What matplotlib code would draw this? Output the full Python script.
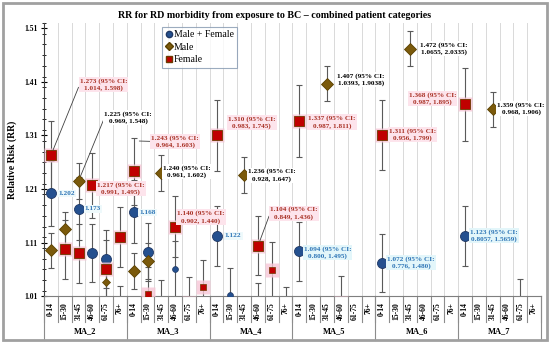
import numpy as np
import matplotlib.pyplot as plt
from matplotlib import patches, transforms
from matplotlib.lines import Line2D
from matplotlib.ticker import MultipleLocator

plt.rcParams['font.family'] = ['Liberation Serif', 'DejaVu Serif']

# categories
ages = ["0-14", "15-30", "31-45", "46-60", "61-75", "76+"]
groups = ["MA_2", "MA_3", "MA_4", "MA_5", "MA_6", "MA_7"]
nan = np.nan

# relative risk per (group, age), nan = no point
mf_rr = [1.202, nan, 1.173, 1.091, 1.079, 0.981,
         1.168, 1.093, 0.990, 1.061, nan, nan,
         1.122, 1.012, nan, 0.985, nan, nan,
         1.094, nan, nan, nan, nan, nan,
         1.072, nan, nan, nan, nan, nan,
         1.123, nan, nan, nan, nan, nan]
male_rr = [1.096, 1.135, 1.225, nan, 1.037, nan,
           1.057, 1.076, 1.240, nan, nan, nan,
           nan, nan, 1.236, nan, nan, nan,
           nan, nan, 1.407, nan, nan, nan,
           nan, nan, 1.472, nan, nan, nan,
           nan, nan, 1.359, nan, nan, nan]
female_rr = [1.273, 1.098, 1.090, 1.217, 1.0615, 1.121,
             1.243, 1.014, nan, 1.140, 0.997, 1.027,
             1.310, nan, nan, 1.104, 1.059, 0.979,
             1.337, nan, nan, 0.998, nan, nan,
             1.311, nan, nan, nan, nan, nan,
             1.368, nan, nan, nan, 0.992, nan]

# error bars: percentage for M+F and F, fixed for M
pct_err = 0.05
male_err = 0.033

# colours
c_mf, c_m, c_f = "#24508f", "#7b5a0c", "#c00000"
t_mf, t_f = "#2e75b6", "#a93226"

x = np.arange(len(groups) * len(ages))

fig = plt.figure(figsize=(5.5, 3.44), dpi=100)
ax = fig.add_axes([0.08, 0.1387, 0.9036, 0.7946])


def plot_series(vals, err, color, edge, marker, big, small, small_idx, z):
    vals = np.array(vals, dtype=float)
    ax.errorbar(x, vals, yerr=err, fmt='none', ecolor='#5a5a5a', elinewidth=0.8,
                capsize=2, capthick=0.8, zorder=2)
    is_small = np.isin(x, small_idx)
    ax.plot(x[~is_small], vals[~is_small], ls='none', marker=marker, ms=big,
            mfc=color, mec=edge, mew=0.6, zorder=z)
    ax.plot(x[is_small], vals[is_small], ls='none', marker=marker, ms=small,
            mfc=color, mec=edge, mew=0.5, zorder=z)
    return vals


mf = np.array(mf_rr)
plot_series(mf_rr, pct_err * mf, c_mf, "#1f3864", 'o', 7.2, 4.2, [9, 13], 3)
plot_series(male_rr, male_err, c_m, "#5a4000", 'D', 6.0, 3.8, [4], 4)
fem = np.array(female_rr)
# pink glow behind the female squares
ax.plot(x, fem, ls='none', marker='s', ms=10.5, mfc='#f7c6d6', mec='none', alpha=0.8, zorder=4.5)
plot_series(female_rr, pct_err * fem, c_f, "#6b3a00", 's', 6.8, 4.2, [7, 11, 16], 5)

# data labels: (text, anchor x, anchor y, text x, text y, colour, background, leader)
labels = [
    ("1.273 (95% CI:\n1.014, 1.598)", 0, 1.273, 3.8, 1.405, t_f, '#fde4ec', True),
    ("1.225 (95% CI:\n0.969, 1.548)", 2, 1.225, 5.6, 1.343, 'black', 'white', True),
    ("1.243 (95% CI:\n0.964, 1.603)", 6, 1.30, 9.0, 1.299, t_f, '#fde4ec', True),
    ("1.240 (95% CI:\n0.961, 1.602)", 0, 0, 9.85, 1.2425, 'black', 'white', False),
    ("1.310 (95% CI:\n0.983, 1.745)", 0, 0, 14.55, 1.334, t_f, '#fde4ec', False),
    ("1.236 (95% CI:\n0.928, 1.647)", 0, 0, 16.0, 1.236, 'black', 'white', False),
    ("1.104 (95% CI:\n0.849, 1.436)", 15, 1.104, 17.6, 1.165, t_f, '#fde4ec', True),
    ("1.122", 0, 0, 13.2, 1.1225, t_mf, '#eef9fb', False),
    ("1.202", 0, 0, 1.15, 1.202, t_mf, '#eef9fb', False),
    ("1.173", 0, 0, 3.05, 1.173, t_mf, '#eef9fb', False),
    ("1.168", 0, 0, 7.0, 1.167, t_mf, '#eef9fb', False),
    ("1.217 (95% CI:\n0.991, 1.495)", 0, 0, 5.07, 1.211, t_f, '#fde4ec', False),
    ("1.140 (95% CI:\n0.902, 1.440)", 0, 0, 10.86, 1.158, t_f, '#fde4ec', False),
    ("1.337 (95% CI:\n0.987, 1.811)", 0, 0, 20.35, 1.335, t_f, '#fde4ec', False),
    ("1.407 (95% CI:\n1.0393, 1.9038)", 0, 0, 22.46, 1.414, 'black', 'white', False),
    ("1.311 (95% CI:\n0.956, 1.799)", 0, 0, 26.2, 1.312, t_f, '#fde4ec', False),
    ("1.472 (95% CI:\n1.0655, 2.0335)", 0, 0, 28.45, 1.472, 'black', 'white', False),
    ("1.368 (95% CI:\n0.987, 1.895)", 0, 0, 27.65, 1.3785, t_f, '#fde4ec', False),
    ("1.359 (95% CI:\n0.968, 1.906)", 0, 0, 34.06, 1.36, 'black', 'white', False),
    ("1.094 (95% CI:\n0.800, 1.495)", 0, 0, 20.04, 1.092, t_mf, '#e3f6fa', False),
    ("1.072 (95% CI:\n0.776, 1.480)", 0, 0, 26.08, 1.073, t_mf, '#e3f6fa', False),
    ("1.123 (95% CI:\n0.8057, 1.5659)", 0, 0, 32.1, 1.123, t_mf, '#e3f6fa', False),
]
for txt, ax_, ay, tx, ty, col, bg, leader in labels:
    box = dict(boxstyle='square,pad=0.15', fc=bg, ec='none')
    if leader:
        ax.annotate(txt, xy=(ax_, ay), xytext=(tx, ty), ha='center', va='center',
                    fontsize=5.2, fontweight='bold', color=col, bbox=box, zorder=6,
                    linespacing=1.35,
                    arrowprops=dict(arrowstyle='-', color='#404040', lw=0.6,
                                    relpos=(0, 0.5), shrinkA=0, shrinkB=4))
    else:
        ax.text(tx, ty, txt, ha='center', va='center', fontsize=5.2, fontweight='bold',
                color=col, bbox=box, zorder=6, linespacing=1.35)

# axes
ax.set_xlim(-0.5, len(x) - 0.5)
ax.set_ylim(1.01, 1.52)
ax.set_yticks(np.arange(1.01, 1.52, 0.1))
ax.yaxis.set_minor_locator(MultipleLocator(0.02))
ax.set_yticklabels([f"{v:.2f}" for v in np.arange(1.01, 1.52, 0.1)],
                   fontsize=5.5, fontweight='bold')
ax.tick_params(axis='y', which='major', direction='inout', length=5, width=0.8, pad=2)
ax.tick_params(axis='y', which='minor', direction='inout', length=3, width=0.6)
ax.set_ylabel("Relative Risk (RR)", fontsize=7, fontweight='bold', labelpad=5)

ax.set_xticks(x)
ax.set_xticklabels(ages * len(groups), rotation=90, fontsize=5.5, fontweight='bold')
ax.tick_params(axis='x', which='major', length=0, pad=4)
ax.set_xticks(np.arange(-0.5, len(x), 1), minor=True)
ax.tick_params(axis='x', which='minor', length=0)
ax.grid(which='minor', axis='x', color='#d9d9d9', lw=0.7)
ax.set_axisbelow(True)

for s in ['top', 'right']:
    ax.spines[s].set_visible(False)
ax.spines['left'].set_color('#404040')
ax.spines['bottom'].set_color('#7f7f7f')

# multi-level category separators
trans = transforms.blended_transform_factory(ax.transData, ax.transAxes)
for b in np.arange(-0.5, len(x), 1):
    ax.plot([b, b], [0, -0.095], transform=trans, color='#8c8c8c', lw=0.8, clip_on=False)
for b in np.arange(-0.5, len(x) + 1, len(ages)):
    ax.plot([b, b], [0, -0.16], transform=trans, color='#8c8c8c', lw=0.8, clip_on=False)
for i, g in enumerate(groups):
    ax.text(i * len(ages) + 2.5, -0.128, g, transform=trans, ha='center', va='center',
            fontsize=6, fontweight='bold')

# legend
handles = [
    Line2D([], [], ls='none', marker='o', ms=4.5, mfc=c_mf, mec="#1f3864", label='Male + Female'),
    Line2D([], [], ls='none', marker='D', ms=4, mfc=c_m, mec="#5a4000", label='Male'),
    Line2D([], [], ls='none', marker='s', ms=4.5, mfc=c_f, mec="#6b3a00", label='Female'),
]
leg = ax.legend(handles=handles, loc='upper left', bbox_to_anchor=(0.237, 0.985),
                fontsize=7, frameon=True, fancybox=False, handletextpad=0.1,
                handlelength=0.8, borderpad=0.35, labelspacing=0.35, borderaxespad=0)
leg.get_frame().set_edgecolor('#8497b0')
leg.get_frame().set_linewidth(0.8)

fig.text(0.5, 0.956, "RR for RD morbidity from exposure to BC \u2013 combined patient categories",
         ha='center', va='center', fontsize=7.2, fontweight='bold')

# outer chart border
fig.patches.append(patches.Rectangle((0.006, 0.012), 0.988, 0.978, transform=fig.transFigure,
                                     fill=False, ec='#a0a0a0', lw=2))

fig.savefig("out.png", dpi=100)
